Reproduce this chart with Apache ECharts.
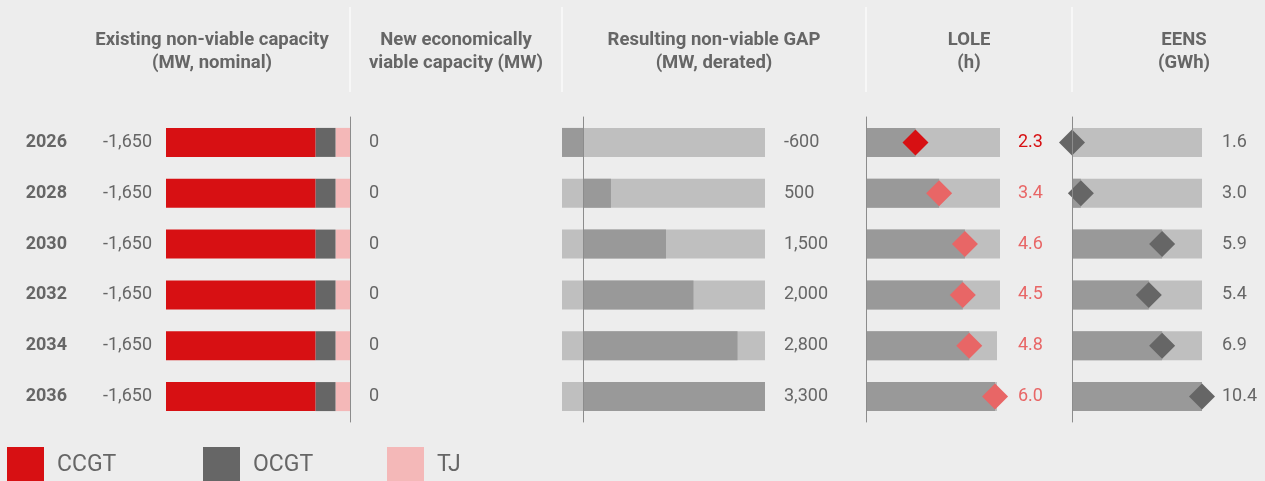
<!DOCTYPE html>
<html>
<head>
<meta charset="utf-8">
<title>Non-viable capacity, GAP, LOLE and EENS</title>
<script src="https://cdn.jsdelivr.net/npm/echarts@6/dist/echarts.min.js"></script>
<style>
html, body { margin: 0; padding: 0; background: #ededed; }
#chart { width: 1265px; height: 481px; }
</style>
</head>
<body>
<div id="chart"></div>
<script>
// rows
var years = ['2026', '2028', '2030', '2032', '2034', '2036'];

// existing non-viable capacity (MW, nominal), split
var ccgt = [-1340, -1340, -1340, -1340, -1340, -1340];
var ocgt = [-180, -180, -180, -180, -180, -180];
var tj = [-130, -130, -130, -130, -130, -130];
var existingTotal = [-1650, -1650, -1650, -1650, -1650, -1650];

// new economically viable capacity (MW)
var newViable = [0, 0, 0, 0, 0, 0];

// resulting non-viable GAP (MW, derated)
var gap = [-600, 500, 1500, 2000, 2800, 3300];

// LOLE (h) and the end of its light track
var lole = [2.3, 3.4, 4.6, 4.5, 4.8, 6.0];
var loleTrack = [6.23, 6.23, 6.23, 6.23, 6.09, 6.09];

// EENS (GWh): printed values, and where the bar / marker sits in the picture
var eens = [1.6, 3.0, 5.9, 5.4, 6.9, 10.4];
var eensMarker = [1.6, 2.2, 7.7, 6.8, 7.7, 10.4];

var RED = '#d71013', DARK = '#666666', PINK = '#f4b8b8';
var MID = '#999999', TRACK = '#bfbfbf', SALMON = '#e86666';
var TXT = '#666666', AXIS = '#8c8c8c';
var FONT = 'Roboto, "Noto Sans", sans-serif';

function fmt(v) { return v.toLocaleString('en-US'); }

var chart = echarts.init(document.getElementById('chart'));

var gridTop = 117, gridBottom = 59; // 481 - 422
var barW = 29;

// category axis helper
function catAxis(gridIndex, pos, extra) {
    var ax = {
        type: 'category',
        gridIndex: gridIndex,
        position: pos,
        inverse: true,
        data: years,
        axisTick: { show: false },
        axisLine: { show: false, onZero: false },
        axisLabel: { show: false },
        splitLine: { show: false }
    };
    return Object.assign(ax, extra || {});
}

function valAxis(gridIndex, min, max) {
    return {
        type: 'value', gridIndex: gridIndex, min: min, max: max, show: false
    };
}

var lineStyle = { color: AXIS, width: 1 };
var labelBase = { fontFamily: FONT, fontSize: 18, color: TXT };

var option = {
    backgroundColor: '#ededed',
    animation: false,
    textStyle: { fontFamily: FONT },
    grid: [
        { left: 166, right: 1265 - 350, top: gridTop, bottom: gridBottom },
        { left: 562, right: 1265 - 765, top: gridTop, bottom: gridBottom },
        { left: 866, right: 1265 - 1000, top: gridTop, bottom: gridBottom },
        { left: 1072, right: 1265 - 1202, top: gridTop, bottom: gridBottom }
    ],
    xAxis: [
        valAxis(0, -1650, 0),
        valAxis(1, -390, 3300),
        valAxis(2, 0, 6.23),
        valAxis(3, 1.6, 10.4)
    ],
    yAxis: [
        // 0: years
        catAxis(0, 'left', {
            axisLabel: Object.assign({ show: true, margin: 99, fontWeight: 'bold' }, labelBase)
        }),
        // 1: existing totals
        catAxis(0, 'left', {
            axisLabel: Object.assign({
                show: true, margin: 14,
                formatter: function (v, i) { return fmt(existingTotal[i]); }
            }, labelBase)
        }),
        // 2: axis line at the right of panel 1, with the "new viable" values
        catAxis(0, 'right', {
            z: 10,
            axisLine: { show: true, onZero: false, lineStyle: lineStyle },
            axisLabel: Object.assign({
                show: true, margin: 19, align: 'left',
                formatter: function (v, i) { return fmt(newViable[i]); }
            }, labelBase)
        }),
        // 3: GAP zero line
        catAxis(1, 'left', {
            z: 10,
            axisLine: { show: true, onZero: true, lineStyle: lineStyle }
        }),
        // 4: GAP values
        catAxis(1, 'right', {
            axisLabel: Object.assign({
                show: true, margin: 19, align: 'left',
                formatter: function (v, i) { return fmt(gap[i]); }
            }, labelBase)
        }),
        // 5: LOLE line
        catAxis(2, 'left', {
            z: 10,
            axisLine: { show: true, onZero: false, lineStyle: lineStyle }
        }),
        // 6: LOLE values
        catAxis(2, 'right', {
            axisLabel: Object.assign({}, labelBase, {
                show: true, margin: 18, align: 'left',
                color: function (v, i) { return i === 0 ? RED : SALMON; },
                formatter: function (v, i) { return lole[i].toFixed(1); }
            })
        }),
        // 7: EENS line
        catAxis(3, 'left', {
            z: 10,
            axisLine: { show: true, onZero: false, lineStyle: lineStyle }
        }),
        // 8: EENS values
        catAxis(3, 'right', {
            axisLabel: Object.assign({
                show: true, margin: 20, align: 'left',
                formatter: function (v, i) { return eens[i].toFixed(1); }
            }, labelBase)
        })
    ],
    legend: [
        { data: ['CCGT'], left: 7 },
        { data: ['OCGT'], left: 203 },
        { data: ['TJ'], left: 387 }
    ].map(function (l) {
        return Object.assign(l, {
            top: 447, padding: 0, icon: 'rect',
            itemWidth: 37, itemHeight: 37,
            selectedMode: false,
            textStyle: { color: TXT, fontSize: 23, fontFamily: FONT, padding: [0, 0, 0, 8] }
        });
    }),
    series: [
        // panel 1: stacked from the axis outwards
        { name: 'TJ', type: 'bar', stack: 'ex', xAxisIndex: 0, yAxisIndex: 0, barWidth: barW,
          itemStyle: { color: PINK }, data: tj },
        { name: 'OCGT', type: 'bar', stack: 'ex', xAxisIndex: 0, yAxisIndex: 0, barWidth: barW,
          itemStyle: { color: DARK }, data: ocgt },
        { name: 'CCGT', type: 'bar', stack: 'ex', xAxisIndex: 0, yAxisIndex: 0, barWidth: barW,
          itemStyle: { color: RED }, data: ccgt },

        // panel 3: GAP
        { type: 'bar', xAxisIndex: 1, yAxisIndex: 3, barWidth: barW,
          showBackground: true, backgroundStyle: { color: TRACK },
          itemStyle: { color: MID }, data: gap },

        // panel 4: LOLE
        { type: 'bar', xAxisIndex: 2, yAxisIndex: 5, barWidth: barW, barGap: '-100%',
          itemStyle: { color: TRACK }, data: loleTrack },
        { type: 'bar', xAxisIndex: 2, yAxisIndex: 5, barWidth: barW, barGap: '-100%',
          itemStyle: { color: MID }, data: lole },
        { type: 'scatter', xAxisIndex: 2, yAxisIndex: 5, symbol: 'diamond', symbolSize: 26, z: 5,
          itemStyle: { opacity: 1, color: function (p) { return p.dataIndex === 0 ? RED : SALMON; } },
          data: lole },

        // panel 5: EENS
        { type: 'bar', xAxisIndex: 3, yAxisIndex: 7, barWidth: barW,
          showBackground: true, backgroundStyle: { color: TRACK },
          itemStyle: { color: MID }, data: eensMarker },
        { type: 'scatter', xAxisIndex: 3, yAxisIndex: 7, symbol: 'diamond', symbolSize: 26, z: 5,
          itemStyle: { opacity: 1, color: DARK }, data: eensMarker }
    ],
    graphic: []
};

// column headers and the thin separators above the panels
var headers = [
    ['Existing non-viable capacity\n(MW, nominal)', 212],
    ['New economically\nviable capacity (MW)', 456],
    ['Resulting non-viable GAP\n(MW, derated)', 714],
    ['LOLE\n(h)', 969],
    ['EENS\n(GWh)', 1184]
];
headers.forEach(function (h) {
    option.graphic.push({
        type: 'text', x: h[1], y: 29,
        style: {
            text: h[0], textAlign: 'center', textVerticalAlign: 'top',
            fill: TXT, font: 'bold 18.5px ' + FONT, lineHeight: 23
        }
    });
});
[350, 562, 866, 1072].forEach(function (x) {
    option.graphic.push({
        type: 'line', shape: { x1: x, y1: 7, x2: x, y2: 92 },
        style: { stroke: '#fafafa', lineWidth: 1.5 }
    });
});

chart.setOption(option);
</script>
</body>
</html>
